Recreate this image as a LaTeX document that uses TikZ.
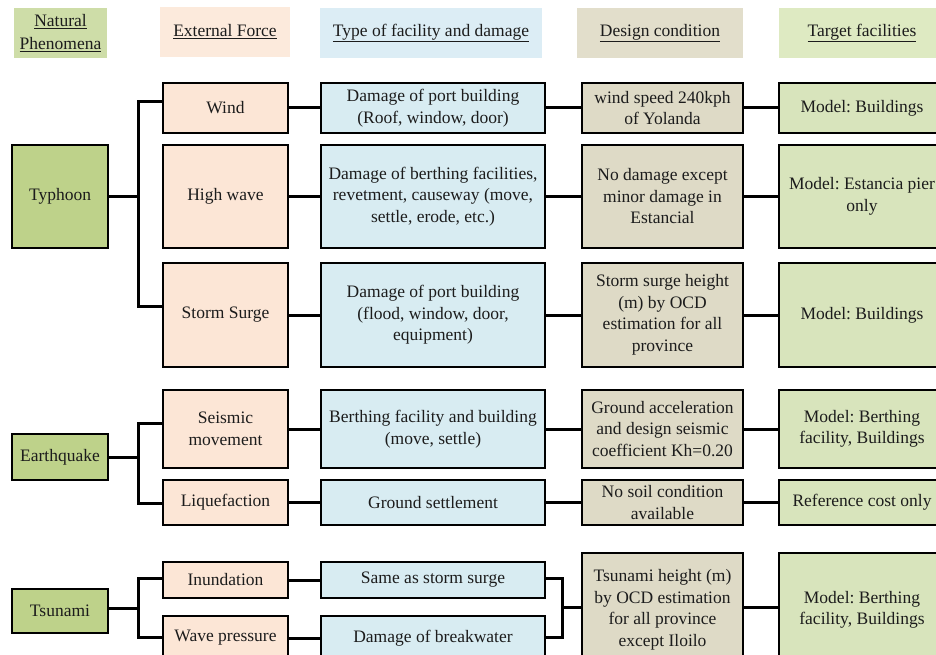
\documentclass[tikz,border=0pt]{standalone}
\usepackage{fontspec}
\setmainfont{Liberation Serif}
\frenchspacing
\definecolor{ink}{RGB}{28,28,28}
\definecolor{natfill}{RGB}{190,210,138}
\definecolor{extfill}{RGB}{252,230,214}
\definecolor{dmgfill}{RGB}{216,236,242}
\definecolor{desfill}{RGB}{222,218,198}
\definecolor{tgtfill}{RGB}{216,228,188}
\definecolor{hnat}{RGB}{206,221,168}
\definecolor{hext}{RGB}{252,234,220}
\definecolor{hdmg}{RGB}{220,237,245}
\definecolor{hdes}{RGB}{226,222,203}
\definecolor{htgt}{RGB}{222,234,194}
\begin{document}
\begin{tikzpicture}[x=1pt,y=-1pt,
  every node/.style={font=\fontsize{17.5}{21.5}\selectfont, text=ink,
                     align=center, inner sep=0pt},
  head/.style={fill=#1, minimum height=50},
  box/.style={draw=black, line width=1.8pt},
  nat/.style={box, fill=natfill, minimum width=96},
  ext/.style={box, fill=extfill, minimum width=125},
  dmg/.style={box, fill=dmgfill, minimum width=224},
  des/.style={box, fill=desfill, minimum width=161},
  tgt/.style={box, fill=tgtfill, minimum width=166},
  link/.style={line width=3pt, draw=black}]
\useasboundingbox (0,0) rectangle (936,655);
\clip (0,0) rectangle (936,655);

% column headings
\node[head=hnat, minimum width=93] (hN) at (60.5,33) {\underline{Natural}\\[1pt]\underline{Phenomena}};
\node[head=hext, minimum width=130] (hE) at (225,32) {\underline{External Force}};
\node[head=hdmg, minimum width=222] (hD) at (431,33) {\underline{Type of facility and damage}};
\node[head=hdes, minimum width=166] (hC) at (660,33) {\underline{Design condition}};
\node[head=htgt, minimum width=166] (hT) at (862,33) {\underline{Target facilities}};

% natural phenomena
\node[nat, minimum height=103] (typ) at (60,196.5) {Typhoon};
\node[nat, minimum height=46]  (eq)  at (60,457)   {Earthquake};
\node[nat, minimum height=44]  (tsu) at (60,611)   {Tsunami};

% external forces
\node[ext, minimum height=50]  (wind)  at (225.5,108)   {Wind};
\node[ext, minimum height=103] (hwave) at (225.5,196.5) {High wave};
\node[ext, minimum height=104] (surge) at (225.5,315)   {Storm Surge};
\node[ext, minimum height=78]  (seis)  at (225.5,429)   {Seismic\\movement};
\node[ext, minimum height=45]  (liq)   at (225.5,502.5) {Liquefaction};
\node[ext, minimum height=36]  (inu)   at (225.5,580)   {Inundation};
\node[ext, minimum height=44]  (wavp)  at (225.5,638)   {Wave pressure};

% type of facility and damage
\node[dmg, minimum height=50]  (d1) at (433,108)   {Damage of port building\\(Roof, window, door)};
\node[dmg, minimum height=103] (d2) at (433,196.5) {Damage of berthing facilities,\\revetment, causeway (move,\\settle, erode, etc.)};
\node[dmg, minimum height=104] (d3) at (433,315)   {Damage of port building\\(flood, window, door,\\equipment)};
\node[dmg, minimum height=78]  (d4) at (433,429)   {Berthing facility and building\\(move, settle)};
\node[dmg, minimum height=45]  (d5) at (433,502.5) {Ground settlement};
\node[dmg, minimum height=36]  (d6) at (433,580)   {Same as storm surge};
\node[dmg, minimum height=44]  (d7) at (433,638)   {Damage of breakwater};

% design conditions
\node[des, minimum height=50]  (s1) at (662.5,108)   {wind speed 240kph\\of Yolanda};
\node[des, minimum height=103] (s2) at (662.5,196.5) {No damage except\\minor damage in\\Estancial};
\node[des, minimum height=104] (s3) at (662.5,315)   {Storm surge height\\(m) by OCD\\estimation for all\\province};
\node[des, minimum height=78]  (s4) at (662.5,429)   {Ground acceleration\\and design seismic\\coefficient Kh=0.20};
\node[des, minimum height=45]  (s5) at (662.5,502.5) {No soil condition\\available};
\node[des, minimum height=114] (s6) at (662.5,610)   {Tsunami height (m)\\by OCD estimation\\for all province\\except Iloilo};

% target facilities
\node[tgt, minimum height=50]  (t1) at (862,108)   {Model: Buildings};
\node[tgt, minimum height=103] (t2) at (862,196.5) {Model: Estancia pier\\only};
\node[tgt, minimum height=104] (t3) at (862,315)   {Model: Buildings};
\node[tgt, minimum height=78]  (t4) at (862,429)   {Model: Berthing\\facility, Buildings};
\node[tgt, minimum height=45]  (t5) at (862,502.5) {Reference cost only};
\node[tgt, minimum height=114] (t6) at (862,610)   {Model: Berthing\\facility, Buildings};

% branching brackets
\coordinate (tyb) at (138,196.5);
\coordinate (eqb) at (138,457);
\coordinate (tsb) at (138,608);
\coordinate (trb) at (562,607);

\draw[link] (typ.east) -- (tyb);
\draw[link] ([yshift=6pt]wind.west) -| (tyb) |- ([yshift=9pt]surge.west);
\draw[link] (eq.east) -- (eqb);
\draw[link] ([yshift=6pt]seis.west) -| (eqb) |- ([yshift=-1pt]liq.west);
\draw[link] (tsb -| tsu.east) -- (tsb);
\draw[link] ([yshift=2pt]inu.west) -| (tsb) |- ([yshift=1pt]wavp.west);

% row links
\foreach \a/\b in {wind/d1, hwave/d2, surge/d3, seis/d4, liq/d5, inu/d6, wavp/d7,
                   d1/s1, d2/s2, d3/s3, d4/s4, d5/s5,
                   s1/t1, s2/t2, s3/t3, s4/t4, s5/t5}
  \draw[link] (\a.east) -- (\b.west);

% tsunami damages joined into one design condition
\draw[link] ([yshift=2pt]d6.east) -| (trb) |- ([yshift=1pt]d7.east);
\draw[link] (trb) -- (trb -| s6.west);
\draw[link] (trb -| s6.east) -- (trb -| t6.west);
\end{tikzpicture}
\end{document}
